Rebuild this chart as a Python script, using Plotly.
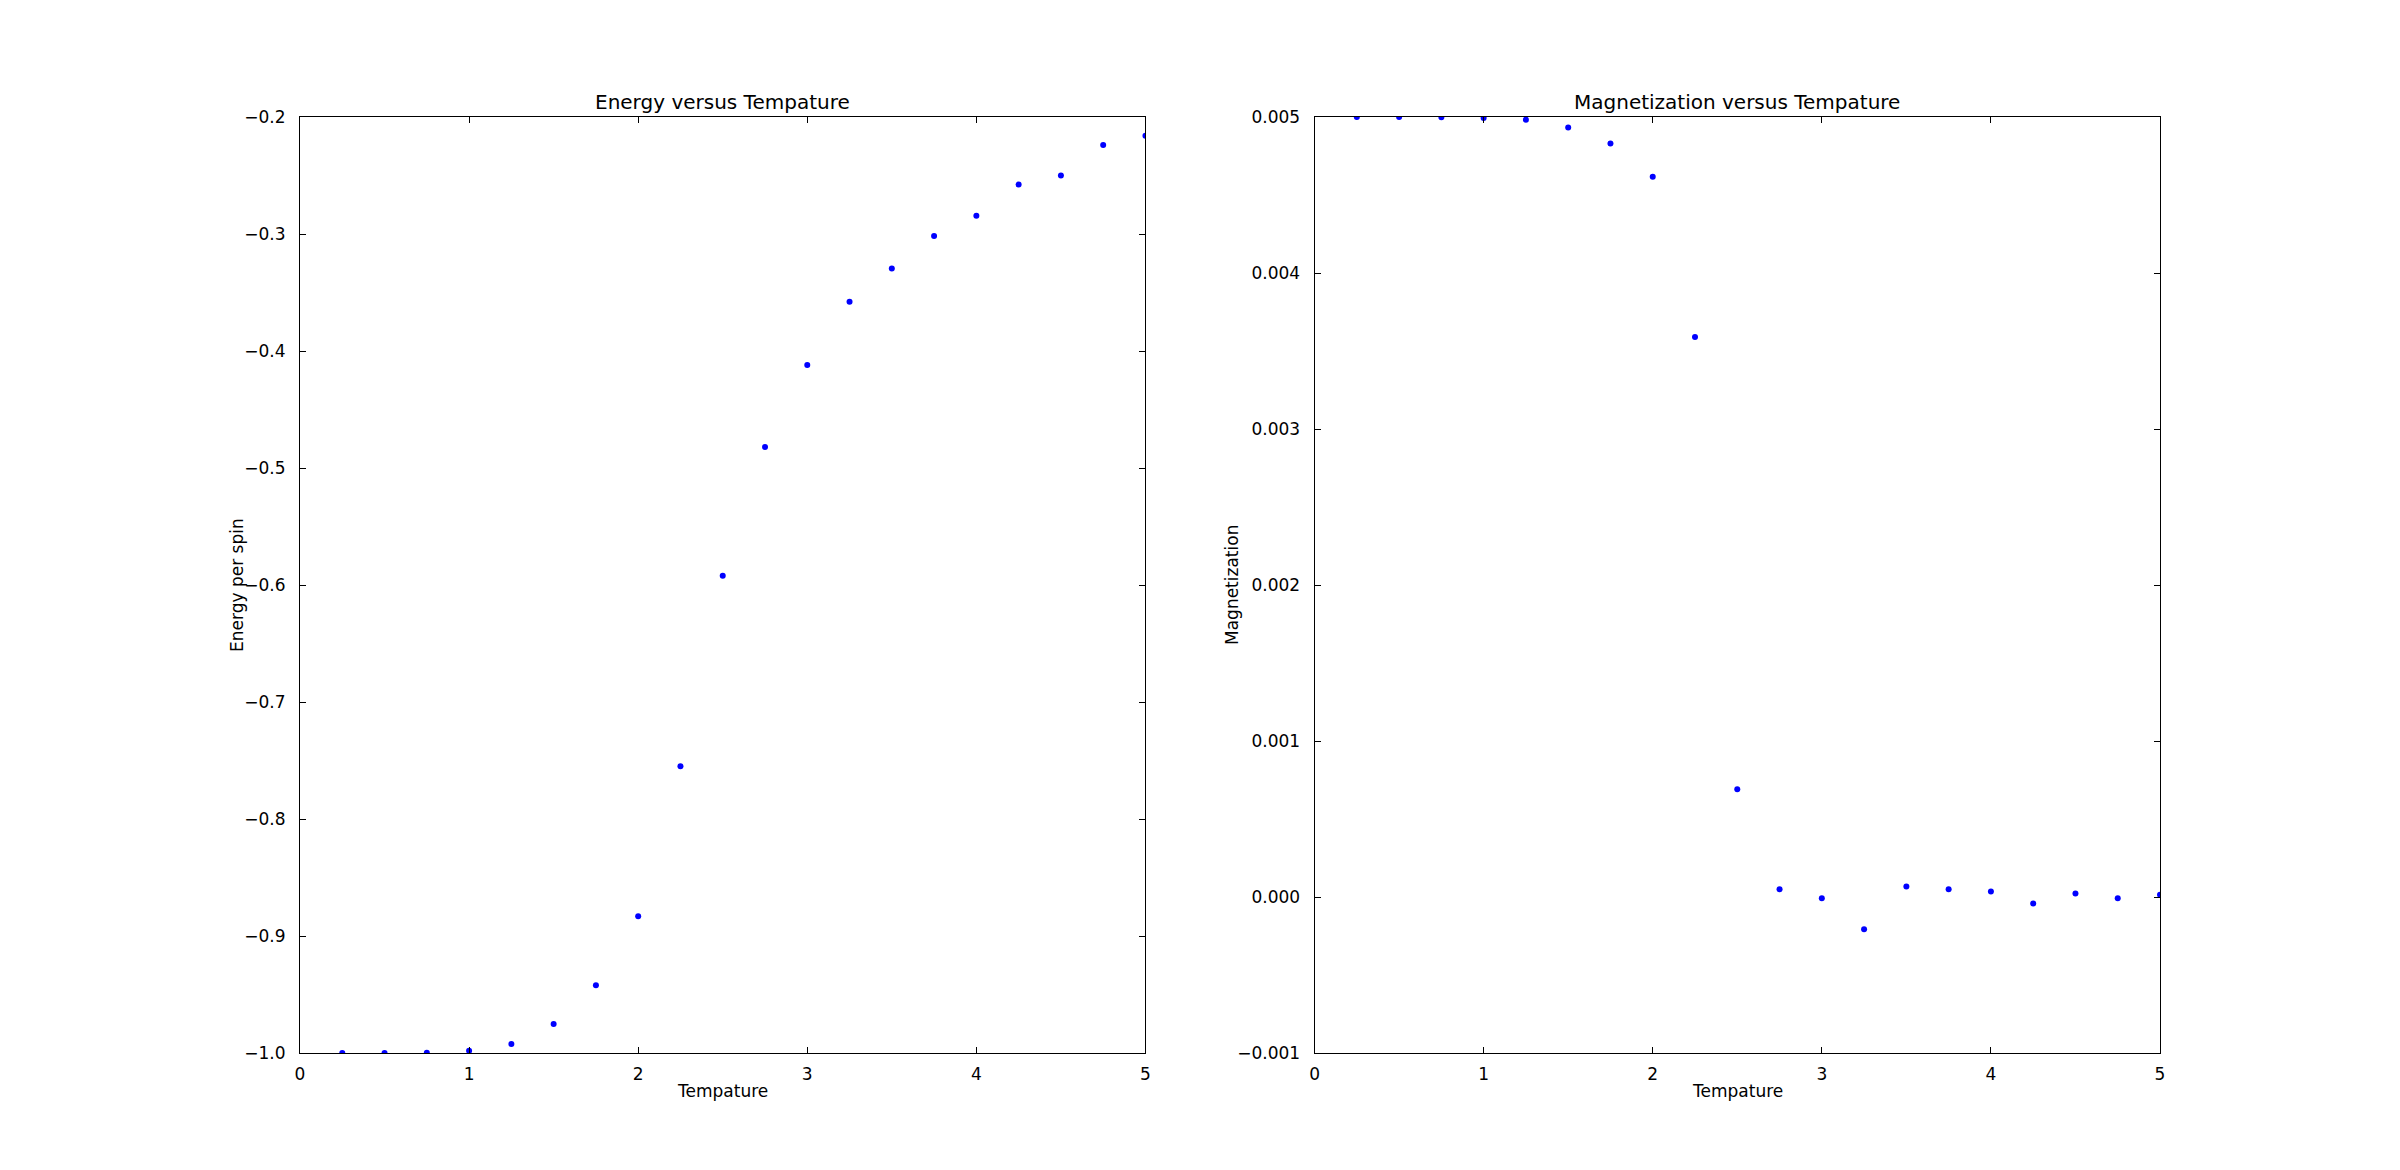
import plotly.graph_objects as go

temps = [0.25, 0.5, 0.75, 1.0, 1.25, 1.5, 1.75, 2.0, 2.25, 2.5,
         2.75, 3.0, 3.25, 3.5, 3.75, 4.0, 4.25, 4.5, 4.75, 5.0]
energy = [-0.9999, -0.9999, -0.9998, -0.998, -0.9923, -0.9753, -0.942, -0.8832, -0.755, -0.592,
          -0.482, -0.412, -0.358, -0.3294, -0.3017, -0.2844, -0.2576, -0.2499, -0.2239, -0.2161]
magnet = [0.005, 0.005, 0.004998, 0.004994, 0.004983, 0.004933, 0.00483, 0.004617, 0.00359, 0.00069,
          0.000049, -0.0000085, -0.000207, 0.000068, 0.000049, 0.000036, -0.000041, 0.000023, -0.0000085, 0.000015]

x_ticks = [0, 1, 2, 3, 4, 5]
e_ticks = [-1.0, -0.9, -0.8, -0.7, -0.6, -0.5, -0.4, -0.3, -0.2]
m_ticks = [-0.001, 0.0, 0.001, 0.002, 0.003, 0.004, 0.005]

FONT = "DejaVu Sans"
W, H = 2400, 1170
left_dom = [300 / W, 1145.45 / W]
right_dom = [1314.55 / W, 2160 / W]
ydom = [0.1, 0.9]

fig = go.Figure()
marker = dict(color="#0000ff", size=6, line=dict(width=0))
fig.add_trace(go.Scatter(x=temps, y=energy, mode="markers", marker=marker,
                         xaxis="x", yaxis="y", showlegend=False))
fig.add_trace(go.Scatter(x=temps, y=magnet, mode="markers", marker=marker,
                         xaxis="x2", yaxis="y2", showlegend=False))

axis_common = dict(showline=True, linecolor="black", linewidth=1, mirror="ticks",
                   ticks="inside", ticklen=6, tickwidth=1, tickcolor="black",
                   showgrid=False, zeroline=False, automargin=False,
                   tickfont=dict(family=FONT, size=17, color="black"))

fig.update_layout(
    template="none",
    width=W, height=H, autosize=False,
    margin=dict(l=0, r=0, t=0, b=0, pad=0),
    paper_bgcolor="white", plot_bgcolor="white",
    xaxis=dict(domain=left_dom, anchor="y", range=[0, 5], tickvals=x_ticks,
               ticktext=[str(t) for t in x_ticks], ticklabelstandoff=6, **axis_common),
    yaxis=dict(domain=ydom, anchor="x", range=[-1.0, -0.2], tickvals=e_ticks,
               tickformat=".1f", ticklabelstandoff=10, **axis_common),
    xaxis2=dict(domain=right_dom, anchor="y2", range=[0, 5], tickvals=x_ticks,
                ticktext=[str(t) for t in x_ticks], ticklabelstandoff=6, **axis_common),
    yaxis2=dict(domain=ydom, anchor="x2", range=[-0.001, 0.005], tickvals=m_ticks,
                tickformat=".3f", ticklabelstandoff=10, **axis_common),
)

tfont = dict(family=FONT, size=20, color="black")
lfont = dict(family=FONT, size=17, color="black")
ann = [
    dict(text="Energy versus Tempature", x=sum(left_dom) / 2, y=1 - 102 / H, font=tfont),
    dict(text="Magnetization versus Tempature", x=sum(right_dom) / 2, y=1 - 102 / H, font=tfont),
    dict(text="Tempature", x=sum(left_dom) / 2, y=1 - 1091 / H, font=lfont),
    dict(text="Tempature", x=sum(right_dom) / 2, y=1 - 1091 / H, font=lfont),
    dict(text="Energy per spin", x=237 / W, y=0.5, textangle=-90, font=lfont),
    dict(text="Magnetization", x=1232 / W, y=0.5, textangle=-90, font=lfont),
]
for a in ann:
    a.update(xref="paper", yref="paper", showarrow=False, xanchor="center", yanchor="middle")
    fig.add_annotation(**a)

fig.write_html("out.html", config={"displayModeBar": False},
               post_script="document.body.style.margin='0';document.body.style.overflow='hidden';")
